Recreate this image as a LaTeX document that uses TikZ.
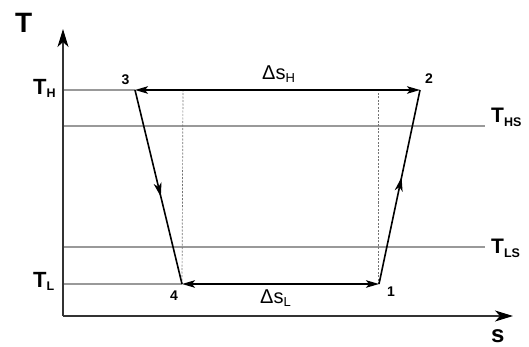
\documentclass[tikz,border=0pt]{standalone}
\usepackage{fontspec}
\setmainfont{Liberation Sans}
\usetikzlibrary{arrows.meta,decorations.markings}
\newcommand{\tlab}[4]{\fontsize{#3}{#3}\selectfont #1\raisebox{-#4}{\fontsize{12.5}{12.5}\selectfont #2}}
\tikzset{
  axisline/.style={line width=1.4pt, draw=black!80, -{Stealth[length=18pt,width=11pt,inset=5pt,fill=black,color=black]}},
  levelline/.style={line width=1.3pt, draw=black!40},
  dashline/.style={line width=0.7pt, draw=black!55, dash pattern=on 2pt off 1.5pt},
  process/.style={line width=1.6pt, draw=black},
  deltaline/.style={line width=1.6pt, draw=black, {Stealth[length=13pt,width=7.5pt,inset=3pt]}-{Stealth[length=13pt,width=7.5pt,inset=3pt]}},
  midarrow/.style={postaction={decorate}, decoration={markings, mark=at position 0.55 with {\arrow{Stealth[length=14pt,width=8pt,inset=4pt]}}}},
  numlab/.style={font=\bfseries\fontsize{14}{14}\selectfont, inner sep=0pt},
  tl/.style={font=\bfseries, inner sep=0pt, anchor=base west},
  dl/.style={inner sep=0pt, anchor=base west},
}
\begin{document}
\begin{tikzpicture}[x=1pt,y=-1pt]
\useasboundingbox (0,0) rectangle (529,347);
% key points
\coordinate (o) at (63,316);
\coordinate (ytip) at (63,29);
\coordinate (xtip) at (513,316);
\coordinate (p1) at (379,284);
\coordinate (p2) at (420,90);
\coordinate (p3) at (135,90);
\coordinate (p4) at (182,284);
\coordinate (aH) at (63,90);
\coordinate (aL) at (63,284);
\coordinate (aHS) at (63,126);
\coordinate (eHS) at (485,126);
\coordinate (aLS) at (63,247);
\coordinate (eLS) at (485,247);
\coordinate (d4) at (183,90);
\coordinate (d1) at (378,90);
\coordinate (d1b) at (378,284);
% level lines
\draw[levelline] (aH) -- (p3);
\draw[levelline] (aL) -- (p4);
\draw[levelline] (aHS) -- (eHS);
\draw[levelline] (aLS) -- (eLS);
% dashed verticals
\draw[dashline] (p4) -- (d4);
\draw[dashline] (d1b) -- (d1);
% axes
\draw[axisline] (o) -- (ytip);
\draw[axisline] (o) -- (xtip);
% process
\draw[process, midarrow] (p3) -- (p4);
\draw[process, midarrow] (p1) -- (p2);
\draw[deltaline] (p3) -- (p2);
\draw[deltaline] (p4) -- (p1);
% labels
\node[numlab] (n1) at (391,292) {1};
\node[numlab] (n2) at (429,79) {2};
\node[numlab] (n3) at (125.5,80) {3};
\node[numlab] (n4) at (174,296) {4};
\node[tl, font=\bfseries\fontsize{28}{28}\selectfont] (T) at (15,33) {T};
\node[tl, font=\bfseries\fontsize{24}{24}\selectfont] (s) at (491,342) {s};
\node[tl] (TH) at (33,95) {\tlab{T}{H}{22}{3pt}};
\node[tl] (TL) at (33,287) {\tlab{T}{L}{22}{3pt}};
\node[tl] (THS) at (491,123) {\tlab{T}{HS}{21}{4pt}};
\node[tl] (TLS) at (491,253) {\tlab{T}{LS}{21}{4pt}};
\node[dl] (dSH) at (262,80) {\fontsize{20}{20}\selectfont Δs\raisebox{-3pt}{\fontsize{13}{13}\selectfont H}};
\node[dl] (dSL) at (260,303) {\fontsize{20}{20}\selectfont Δs\raisebox{-3pt}{\fontsize{13}{13}\selectfont L}};
\end{tikzpicture}
\end{document}
